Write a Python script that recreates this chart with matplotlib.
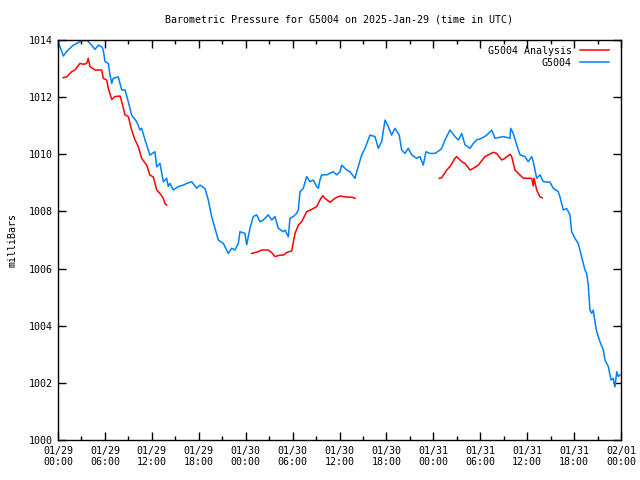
import numpy as np
import matplotlib.pyplot as plt

# hours since 2025-01-29 00:00 UTC, pressure in millibars
obs_hours = [0.04, 0.68, 1.11, 1.96, 2.81, 3.67, 4.31, 4.73, 5.15, 5.59, 5.79, 6.01, 6.43, 6.65,
             6.87, 7.07, 7.71, 8.15, 8.57, 8.99, 9.42, 10.06, 10.49, 10.70, 11.13, 11.76, 12.40,
             12.62, 13.04, 13.47, 13.90, 14.10, 14.32, 14.74, 15.38, 16.02, 16.46, 17.10, 17.74,
             18.16, 18.80, 19.22, 19.65, 20.08, 20.50, 21.14, 21.78, 22.21, 22.63, 23.06, 23.27,
             23.91, 24.13, 24.55, 24.97, 25.41, 25.83, 26.25, 26.89, 27.33, 27.75, 28.17, 28.81,
             29.03, 29.45, 29.67, 30.09, 30.52, 30.73, 30.95, 31.37, 31.80, 32.23, 32.65, 33.08,
             33.29, 33.50, 33.72, 34.36, 35.20, 35.64, 36.06, 36.28, 36.92, 37.34, 37.98, 38.40,
             38.84, 39.26, 39.90, 40.54, 40.96, 41.39, 41.82, 42.24, 42.67, 43.09, 43.64, 43.95,
             44.37, 44.79, 45.23, 45.87, 46.29, 46.71, 47.06, 47.57, 48.21, 48.85, 49.07, 49.49,
             50.13, 50.77, 51.20, 51.63, 52.05, 52.69, 53.11, 53.54, 54.18, 54.83, 55.46, 55.88,
             56.95, 57.80, 57.89, 58.22, 58.66, 59.08, 59.72, 60.14, 60.58, 60.78, 61.22, 61.64,
             62.06, 62.92, 63.34, 63.98, 64.19, 64.62, 65.05, 65.47, 65.69, 66.11, 66.53, 66.96,
             67.39, 67.61, 67.81, 68.03, 68.25, 68.45, 68.67, 68.89, 69.31, 69.74, 69.95, 70.38,
             70.72, 71.01, 71.23, 71.45, 71.66, 71.87]
obs_mb = [1013.94, 1013.44, 1013.60, 1013.82, 1013.94, 1014.00, 1013.82, 1013.67, 1013.82, 1013.76,
          1013.65, 1013.24, 1013.18, 1012.78, 1012.48, 1012.66, 1012.71, 1012.25, 1012.25, 1011.84,
          1011.37, 1011.14, 1010.85, 1010.91, 1010.50, 1009.97, 1010.09, 1009.56, 1009.68, 1009.04,
          1009.16, 1008.87, 1008.98, 1008.75, 1008.87, 1008.92, 1008.98, 1009.04, 1008.81, 1008.92,
          1008.80, 1008.40, 1007.82, 1007.41, 1007.00, 1006.88, 1006.53, 1006.71, 1006.65, 1006.88,
          1007.29, 1007.23, 1006.83, 1007.41, 1007.82, 1007.88, 1007.64, 1007.70, 1007.88, 1007.70,
          1007.82, 1007.41, 1007.29, 1007.35, 1007.11, 1007.76, 1007.82, 1007.93, 1008.05, 1008.69,
          1008.81, 1009.22, 1009.04, 1009.10, 1008.87, 1008.81, 1009.10, 1009.28, 1009.28, 1009.39,
          1009.28, 1009.39, 1009.62, 1009.45, 1009.39, 1009.16, 1009.57, 1009.98, 1010.21, 1010.67,
          1010.62, 1010.21, 1010.44, 1011.20, 1010.97, 1010.67, 1010.91, 1010.67, 1010.15, 1010.03,
          1010.21, 1009.98, 1009.86, 1009.92, 1009.62, 1010.09, 1010.03, 1010.03, 1010.15, 1010.21,
          1010.50, 1010.85, 1010.62, 1010.50, 1010.73, 1010.33, 1010.21, 1010.38, 1010.50, 1010.56,
          1010.67, 1010.85, 1010.56, 1010.62, 1010.56, 1010.91, 1010.73, 1010.33, 1009.98, 1009.92,
          1009.74, 1009.92, 1009.74, 1009.16, 1009.28, 1009.04, 1009.02, 1008.81, 1008.69, 1008.51,
          1008.05, 1008.10, 1007.88, 1007.29, 1007.06, 1006.88, 1006.42, 1005.95, 1005.83, 1005.43,
          1004.55, 1004.43, 1004.55, 1004.14, 1003.79, 1003.44, 1003.15, 1002.80, 1002.57, 1002.10,
          1002.16, 1001.86, 1002.39, 1002.22, 1002.28]

# analysis comes in three separate runs
ana1_hours = [0.68, 1.11, 1.75, 2.17, 2.81, 3.24, 3.67, 3.87, 4.09, 4.73, 5.59, 5.79, 6.23, 6.43,
              6.87, 7.29, 7.93, 8.15, 8.57, 8.99, 9.42, 9.85, 10.27, 10.70, 11.34, 11.76, 12.19,
              12.62, 13.04, 13.47, 13.68, 13.90]
ana1_mb = [1012.68, 1012.71, 1012.89, 1012.95, 1013.18, 1013.15, 1013.18, 1013.36, 1013.07, 1012.95,
           1012.95, 1012.66, 1012.60, 1012.31, 1011.92, 1012.02, 1012.04, 1011.84, 1011.38, 1011.32,
           1010.85, 1010.50, 1010.27, 1009.86, 1009.62, 1009.27, 1009.21, 1008.75, 1008.63, 1008.46,
           1008.28, 1008.22]
ana2_hours = [24.77, 25.61, 26.05, 26.89, 27.33, 27.75, 28.39, 28.81, 29.25, 29.89, 30.31, 30.73,
              31.16, 31.80, 32.44, 33.08, 33.50, 33.85, 34.14, 34.78, 35.42, 36.06, 36.92, 37.56,
              37.98]
ana2_mb = [1006.53, 1006.59, 1006.65, 1006.65, 1006.56, 1006.42, 1006.47, 1006.47, 1006.56, 1006.62,
           1007.23, 1007.52, 1007.64, 1007.99, 1008.07, 1008.17, 1008.40, 1008.55, 1008.46, 1008.32,
           1008.46, 1008.54, 1008.50, 1008.50, 1008.46]
ana3_hours = [48.76, 49.07, 49.71, 50.13, 50.77, 50.99, 51.63, 52.05, 52.69, 53.11, 53.75, 54.60,
              55.03, 55.67, 56.10, 56.74, 57.16, 57.80, 58.02, 58.44, 58.87, 59.51, 60.58, 60.78,
              60.87, 61.22, 61.64, 61.93]
ana3_mb = [1009.16, 1009.18, 1009.45, 1009.57, 1009.86, 1009.92, 1009.74, 1009.68, 1009.45, 1009.51,
           1009.62, 1009.92, 1009.98, 1010.07, 1010.03, 1009.80, 1009.86, 1010.00, 1009.92, 1009.45,
           1009.33, 1009.16, 1009.16, 1008.89, 1009.16, 1008.75, 1008.51, 1008.48]

tick_hours = list(range(0, 73, 6))
tick_labels = ['01/29\n00:00', '01/29\n06:00', '01/29\n12:00', '01/29\n18:00',
               '01/30\n00:00', '01/30\n06:00', '01/30\n12:00', '01/30\n18:00',
               '01/31\n00:00', '01/31\n06:00', '01/31\n12:00', '01/31\n18:00',
               '02/01\n00:00']

plt.rcParams['font.family'] = ['DejaVu Sans Mono']
plt.rcParams['font.size'] = 7.2

fig = plt.figure(figsize=(6.4, 4.8), dpi=100)
ax = fig.add_axes([58 / 640, 40 / 480, 563 / 640, 400 / 480])

red = '#ff0000'
blue = '#0080ff'
ax.plot(ana1_hours, ana1_mb, color=red, lw=1.1, label='G5004 Analysis')
ax.plot(ana2_hours, ana2_mb, color=red, lw=1.1)
ax.plot(ana3_hours, ana3_mb, color=red, lw=1.1)
ax.plot(obs_hours, obs_mb, color=blue, lw=1.1, label='G5004')

ax.set_xlim(0, 72)
ax.set_ylim(1000, 1014)
ax.set_xticks(tick_hours)
ax.set_xticklabels(tick_labels)
ax.set_xticks(range(3, 72, 6), minor=True)
ax.set_yticks(range(1000, 1015, 2))
ax.tick_params(which='both', direction='in', top=True, right=True, width=1.0, color='black')
ax.tick_params(which='major', length=6, pad=4)
ax.tick_params(which='minor', length=3)
for sp in ax.spines.values():
    sp.set_linewidth(1.0)

ax.set_ylabel('milliBars', labelpad=8)
fig.text(339 / 640, 1 - 19 / 480, 'Barometric Pressure for G5004 on 2025-Jan-29 (time in UTC)',
         ha='center', va='center')

ax.legend(loc='upper right', bbox_to_anchor=(0.989, 1.0), frameon=False, markerfirst=False,
          handlelength=2.9, borderaxespad=0.2, labelspacing=0.2, handletextpad=0.8)

fig.savefig('out.png', dpi=100)
